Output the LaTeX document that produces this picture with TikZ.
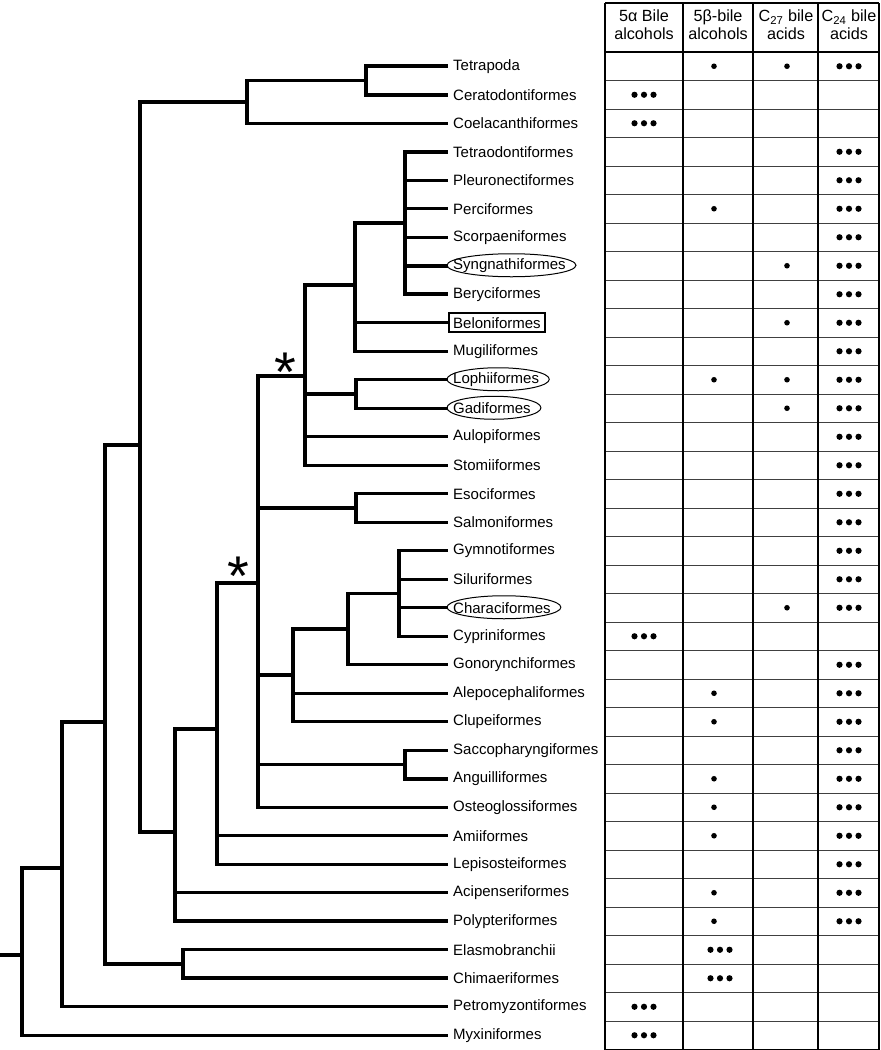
\documentclass[tikz,border=0pt]{standalone}
\usepackage{fontspec}
\setmainfont{Liberation Sans}
\usetikzlibrary{calc}
\begin{document}
\begin{tikzpicture}[x=1pt,y=1pt,
  br/.style={line width=3.1pt, line join=miter},
  brk/.style={line width=4pt, line join=miter},
  taxon/.style={anchor=west, inner xsep=5pt, inner ysep=2pt, font=\fontsize{15}{18}\selectfont},
  hdr/.style={align=center, inner sep=0pt, font=\fontsize{16.2}{18}\selectfont},
  ell/.style={line width=1pt},
  boxed/.style={line width=1.8pt},
  vline/.style={line width=1.3pt},
  hline/.style={line width=1pt, black!75},
  star/.style={anchor=north, inner sep=0pt, font=\fontsize{56}{56}\selectfont}]
\useasboundingbox (0,0) rectangle (881,-1050);
% ---------- taxa ----------
\foreach \nm [count=\i from 0] in {Tetrapoda,Ceratodontiformes,Coelacanthiformes,Tetraodontiformes,Pleuronectiformes,Perciformes,Scorpaeniformes,Syngnathiformes,Beryciformes,Beloniformes,Mugiliformes,Lophiiformes,Gadiformes,Aulopiformes,Stomiiformes,Esociformes,Salmoniformes,Gymnotiformes,Siluriformes,Characiformes,Cypriniformes,Gonorynchiformes,Alepocephaliformes,Clupeiformes,Saccopharyngiformes,Anguilliformes,Osteoglossiformes,Amiiformes,Lepisosteiformes,Acipenseriformes,Polypteriformes,Elasmobranchii,Chimaeriformes,Petromyzontiformes,Myxiniformes}
  \node[taxon] (t\i) at (448,{-66.25-28.5*\i}) {\nm};
% highlighted taxa
\draw[boxed] ($(t9.west)+(1,-9.5)$) rectangle ($(t9.east)+(-1,9.5)$);
\foreach \k in {7,11,12,19}
  \draw[ell] let \p1=(t\k.east) in ({(\x1+5pt+447pt)/2},{\y1+0.5pt}) ellipse [x radius={(\x1+5pt-447pt)/2}, y radius=11.5pt];
% ---------- internal nodes ----------
\coordinate (root) at (0,-955);
\coordinate (n22) at (22,-955);
\coordinate (n62) at (62,-868);
\coordinate (n105) at (105,-722);
\coordinate (n183) at (183,-964);
\coordinate (n140) at (140,-445);
\coordinate (n247) at (247,-102);
\coordinate (n366) at (366,-80.5);
\coordinate (n175) at (175,-832);
\coordinate (n217) at (217,-729);
\coordinate (n258) at (258,-583);
\coordinate (n305) at (305,-376);
\coordinate (n355) at (355,-285);
\coordinate (n405) at (405,-223);
\coordinate (n356a) at (356,-394);
\coordinate (n356b) at (356,-508);
\coordinate (n293) at (293,-675);
\coordinate (n348) at (348,-629);
\coordinate (n399) at (399,-593.5);
\coordinate (n405b) at (405,-764.5);
% ---------- branches ----------
\draw[br] (root) -- (n22);
\draw[br] (n22) |- (n62);
\draw[br] (n22) |- (t34.west);
\draw[br] (n62) |- (n105);
\draw[br] (n62) |- (t33.west);
\draw[brk] (n105) |- (n140);
\draw[brk] (n105) |- (n183);
\draw[br] (n183) |- (t31.west);
\draw[brk] (n183) |- (t32.west);
\draw[br] (n140) |- (n247);
\draw[br] (n140) |- (n175);
\draw[br] (n247) |- (n366);
\draw[br] (n247) |- (t2.west);
\draw[brk] (n366) |- (t0.west);
\draw[brk] (n366) |- (t1.west);
\draw[brk] (n175) |- (n217);
\draw[br] (n175) |- (t29.west);
\draw[brk] (n175) |- (t30.west);
\draw[br] (n217) |- (n258);
\draw[br] (n217) |- (t27.west);
\draw[br] (n217) |- (t28.west);
\draw[br] (n258) |- (n305);
\draw[br] (n258) |- (n356b);
\draw[br] (n258) |- (n293);
\draw[br] (n258) |- (n405b);
\draw[br] (n258) |- (t26.west);
\draw[br] (n305) |- (n355);
\draw[br] (n305) |- (n356a);
\draw[br] (n305) |- (t13.west);
\draw[br] (n305) |- (t14.west);
\draw[brk] (n355) |- (n405);
\draw[br] (n355) |- (t9.west);
\draw[br] (n355) |- (t10.west);
\draw[brk] (n405) |- (t3.west);
\draw[br] (n405) |- (t4.west);
\draw[br] (n405) |- (t5.west);
\draw[br] (n405) |- (t6.west);
\draw[brk] (n405) |- (t7.west);
\draw[brk] (n405) |- (t8.west);
\draw[br] (n356a) |- (t11.west);
\draw[br] (n356a) |- (t12.west);
\draw[br] (n356b) |- (t15.west);
\draw[br] (n356b) |- (t16.west);
\draw[br] (n293) |- (n348);
\draw[br] (n293) |- (t22.west);
\draw[br] (n293) |- (t23.west);
\draw[br] (n348) |- (n399);
\draw[br] (n348) |- (t21.west);
\draw[br] (n399) |- (t17.west);
\draw[br] (n399) |- (t18.west);
\draw[br] (n399) |- (t19.west);
\draw[br] (n399) |- (t20.west);
\draw[br] (n405b) |- (t24.west);
\draw[brk] (n405b) |- (t25.west);
% asterisks
\node[star] (s1) at (285,-353) {*};
\node[star] (s2) at (238,-557) {*};
% ---------- table ----------
\foreach \k in {1,...,34}
  \draw[hline] (605,{-52-28.5*\k}) -- (879,{-52-28.5*\k});
\draw[vline] (605,-3) -- (879,-3);
\draw[vline] (605,-52) -- (879,-52);
\draw[vline] (605,-1049.5) -- (879,-1049.5);
\foreach \x in {605,683,753,818,879}
  \draw[vline] (\x,-3) -- (\x,-1049.5);
\node[hdr] (h1) at (644,-25) {5α Bile\\alcohols};
\node[hdr] (h2) at (718,-25) {5β-bile\\alcohols};
\node[hdr] (h3) at (786,-25) {C\textsubscript{27} bile\\acids};
\node[hdr] (h4) at (849,-25) {C\textsubscript{24} bile\\acids};
% dots
\foreach \r in {0,3,4,5,6,7,8,9,10,11,12,13,14,15,16,17,18,19,21,22,23,24,25,26,27,28,29,30}
  \foreach \d in {-9.5,0,9.5}
    \fill ({849+\d},{-66.25-28.5*\r}) circle (3.1);
\foreach \r in {1,2,20,33,34}
  \foreach \d in {-9.5,0,9.5}
    \fill ({644+\d},{-66.25-28.5*\r}) circle (3.1);
\foreach \r in {31,32}
  \foreach \d in {-9.5,0,9.5}
    \fill ({720+\d},{-66.25-28.5*\r}) circle (3.1);
\foreach \r in {0,5,11,22,23,25,26,27,29,30}
  \fill (714,{-66.25-28.5*\r}) circle (2.8);
\foreach \r in {0,7,9,11,12,19}
  \fill (787,{-66.25-28.5*\r}) circle (2.8);
\end{tikzpicture}
\end{document}
